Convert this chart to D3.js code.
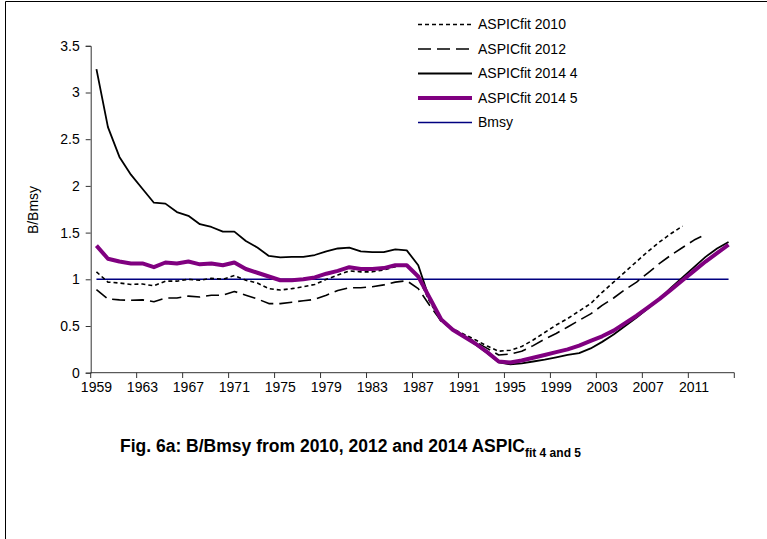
<!DOCTYPE html>
<html>
<head>
<meta charset="utf-8">
<script src="https://cdn.jsdelivr.net/npm/d3@7"></script>
<style>
  body { margin: 0; background: #fff; }
  svg { display: block; font-family: "Liberation Sans", Arial, sans-serif; }
</style>
</head>
<body>
<div id="chart"></div>
<script>
var width = 767, height = 539;

// categories
var years = d3.range(1959, 2015); // 1959 .. 2014
var tickYears = [1959, 1963, 1967, 1971, 1975, 1979, 1983, 1987, 1991, 1995, 1999, 2003, 2007, 2011];
var yTicks = [0, 0.5, 1, 1.5, 2, 2.5, 3, 3.5];

// series values, starting 1959
var aspic2010 = [1.08, 0.97, 0.96, 0.945, 0.95, 0.93, 0.98, 0.98, 1.00, 0.99,
  1.01, 1.00, 1.04, 0.99, 0.96, 0.90, 0.885, 0.90, 0.92, 0.945,
  1.00, 1.045, 1.09, 1.08, 1.08, 1.10, 1.135, 1.15, 1.02, 0.76,
  0.55, 0.47, 0.41, 0.35, 0.285, 0.23, 0.24, 0.28, 0.35, 0.43,
  0.51, 0.58, 0.66, 0.74, 0.86, 0.97, 1.08, 1.19, 1.30, 1.40,
  1.49, 1.57];
var aspic2012 = [0.89, 0.79, 0.78, 0.775, 0.78, 0.76, 0.80, 0.80, 0.82, 0.81,
  0.83, 0.83, 0.87, 0.83, 0.79, 0.74, 0.74, 0.755, 0.77, 0.785,
  0.83, 0.88, 0.91, 0.91, 0.92, 0.94, 0.97, 0.985, 0.90, 0.72,
  0.55, 0.46, 0.39, 0.33, 0.26, 0.19, 0.20, 0.23, 0.29, 0.36,
  0.42, 0.49, 0.56, 0.63, 0.72, 0.80, 0.89, 0.97, 1.07, 1.17,
  1.26, 1.34, 1.42, 1.48];
var aspic2014_4 = [3.25, 2.63, 2.31, 2.12, 1.97, 1.82, 1.81, 1.72, 1.68, 1.59,
  1.56, 1.51, 1.51, 1.41, 1.34, 1.25, 1.235, 1.24, 1.24, 1.26,
  1.30, 1.33, 1.34, 1.30, 1.29, 1.29, 1.32, 1.31, 1.15, 0.78,
  0.56, 0.46, 0.39, 0.30, 0.21, 0.11, 0.09, 0.10, 0.12, 0.14,
  0.165, 0.19, 0.21, 0.26, 0.33, 0.41, 0.50, 0.59, 0.69, 0.79,
  0.91, 1.02, 1.13, 1.24, 1.33, 1.40];
var aspic2014_5 = [1.36, 1.22, 1.19, 1.17, 1.17, 1.13, 1.18, 1.17, 1.19, 1.16,
  1.17, 1.15, 1.18, 1.11, 1.07, 1.03, 0.99, 0.99, 1.00, 1.02,
  1.06, 1.09, 1.13, 1.11, 1.11, 1.12, 1.15, 1.15, 1.03, 0.80,
  0.57, 0.46, 0.385, 0.31, 0.22, 0.12, 0.11, 0.13, 0.16, 0.19,
  0.22, 0.25, 0.29, 0.34, 0.39, 0.45, 0.53, 0.61, 0.70, 0.79,
  0.89, 0.99, 1.09, 1.19, 1.28, 1.37];
var bmsy = years.map(function() { return 1; });

var seriesNames = ["ASPICfit 2010", "ASPICfit 2012", "ASPICfit 2014 4", "ASPICfit 2014 5", "Bmsy"];

var svg = d3.select("#chart").append("svg")
  .attr("width", width)
  .attr("height", height);

// outer frame (only top and left edges show)
svg.append("line").attr("x1", 5.5).attr("x2", width).attr("y1", 1.5).attr("y2", 1.5)
  .attr("stroke", "#000").attr("stroke-width", 1);
svg.append("line").attr("x1", 5.5).attr("x2", 5.5).attr("y1", 1.5).attr("y2", height)
  .attr("stroke", "#000").attr("stroke-width", 1);

var x = d3.scaleBand().domain(years).range([90.7, 734.3]).padding(0);
var y = d3.scaleLinear().domain([0, 3.5]).range([372.7, 45.8]);
var cx = function(yr) { return x(yr) + x.bandwidth() / 2; };

// y axis
var yAxis = svg.append("g")
  .attr("transform", "translate(90.7,0)")
  .call(d3.axisLeft(y).tickValues(yTicks).tickSize(5).tickPadding(6)
    .tickFormat(function(d) { return d3.format("")(d); }));
yAxis.selectAll("text").attr("font-size", 14).attr("fill", "#000")
  .attr("font-family", "Liberation Sans, Arial, sans-serif");
yAxis.selectAll("line").attr("stroke", "#333");
yAxis.select(".domain").attr("stroke", "#333");

// x axis: labels on categories, ticks on boundaries
var xAxis = svg.append("g")
  .attr("transform", "translate(0,372.7)")
  .call(d3.axisBottom(x).tickValues(tickYears).tickSize(0).tickPadding(9));
xAxis.select(".domain").remove();
xAxis.selectAll("text").attr("font-size", 14).attr("fill", "#000")
  .attr("font-family", "Liberation Sans, Arial, sans-serif");

var boundaries = tickYears.map(function(d) { return x(d); }).concat([x.range()[1]]);
svg.append("line").attr("x1", 90.7).attr("x2", 734.3).attr("y1", 372.7).attr("y2", 372.7)
  .attr("stroke", "#333");
svg.selectAll(".xtick").data(boundaries).enter().append("line")
  .attr("class", "xtick")
  .attr("x1", function(d) { return d; }).attr("x2", function(d) { return d; })
  .attr("y1", 372.7).attr("y2", 378)
  .attr("stroke", "#333");

// y axis title
svg.append("text")
  .attr("transform", "translate(38,210) rotate(-90)")
  .attr("text-anchor", "middle")
  .attr("font-size", 14)
  .text("B/Bmsy");

// lines
var styles = [
  { data: aspic2010, color: "#000", w: 1.6, dash: "4,3" },
  { data: aspic2012, color: "#000", w: 1.6, dash: "13,6" },
  { data: aspic2014_4, color: "#000", w: 1.8, dash: null },
  { data: aspic2014_5, color: "#800080", w: 4, dash: null },
  { data: bmsy, color: "#000080", w: 1.6, dash: null }
];

var line = d3.line()
  .x(function(d, i) { return cx(years[i]); })
  .y(function(d) { return y(d); });

// draw Bmsy first, then others in legend order (purple over black)
var drawOrder = [4, 0, 1, 2, 3];
drawOrder.forEach(function(k) {
  var s = styles[k];
  svg.append("path")
    .datum(s.data)
    .attr("fill", "none")
    .attr("stroke", s.color)
    .attr("stroke-width", s.w)
    .attr("stroke-dasharray", s.dash)
    .attr("stroke-linejoin", "round")
    .attr("d", line);
});

// legend
var legend = svg.append("g").selectAll("g")
  .data(seriesNames).enter().append("g")
  .attr("transform", function(d, i) { return "translate(418," + (24.5 + i * 24.5) + ")"; });
legend.append("line")
  .attr("x1", 0).attr("x2", 54)
  .attr("stroke", function(d, i) { return styles[i].color; })
  .attr("stroke-width", function(d, i) { return styles[i].w; })
  .attr("stroke-dasharray", function(d, i) { return styles[i].dash; });
legend.append("text")
  .attr("x", 60).attr("dy", "0.35em")
  .attr("font-size", 14)
  .text(function(d) { return d; });

// caption
var cap = svg.append("text")
  .attr("x", 120).attr("y", 452)
  .attr("font-size", 17.5)
  .attr("font-weight", "bold");
cap.append("tspan").text("Fig. 6a: B/Bmsy from 2010, 2012 and 2014 ASPIC");
cap.append("tspan").attr("font-size", 12).attr("dy", 5).text("fit 4 and 5");
</script>
</body>
</html>
